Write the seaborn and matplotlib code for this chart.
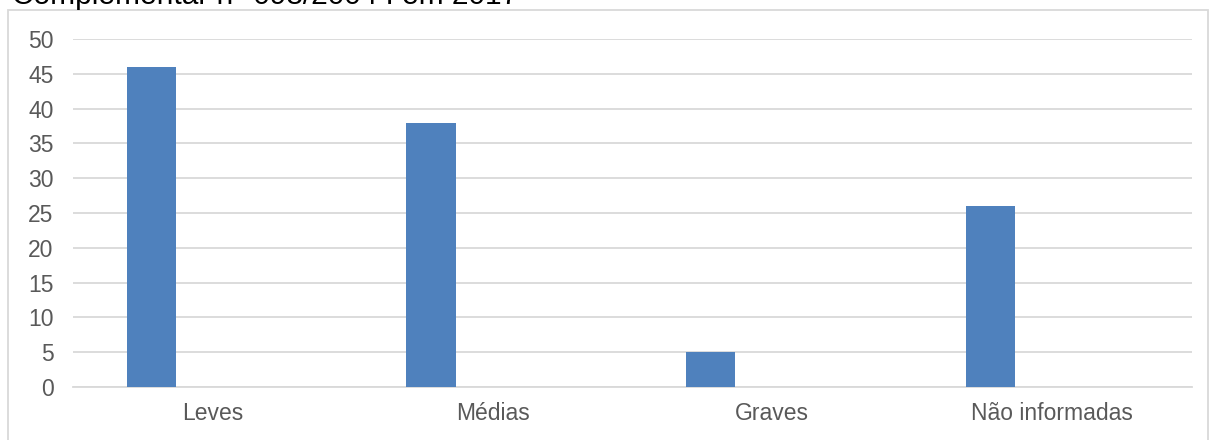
import matplotlib
matplotlib.use("Agg")
import matplotlib.pyplot as plt
import seaborn as sns
import pandas as pd
from matplotlib.patches import Rectangle

categories = ["Leves", "Médias", "Graves", "Não informadas"]
values = [46, 38, 5, 26]
empty_series = [0, 0, 0, 0]
yticks = [0, 5, 10, 15, 20, 25, 30, 35, 40, 45, 50]
title = "Complementar n° 098/2004 I em 2017"

sns.set_theme(style="white")
plt.rcParams['font.family'] = ['Liberation Sans', 'DejaVu Sans']

df = pd.DataFrame({
    "cat": categories * 2,
    "val": values + empty_series,
    "serie": ["A"] * 4 + ["B"] * 4,
})

fig = plt.figure(figsize=(12.09, 4.40), dpi=100)
ax = fig.add_axes([73/1209, 1-387/440, (1192-73)/1209, (387-39)/440])

sns.barplot(data=df, x="cat", y="val", hue="serie", order=categories,
            palette={"A": "#4f81bd", "B": "#c0504d"}, saturation=1,
            width=0.88, gap=0.6,
            linewidth=0, errorbar=None, legend=False, ax=ax, zorder=3)

ax.set_ylim(0, 50)
ax.set_xlim(-0.5, 3.5)
ax.set_yticks(yticks)
ax.set_yticklabels([str(t) for t in yticks])
ax.yaxis.grid(True, color="#d9d9d9", linewidth=1.3, zorder=0)
ax.set_axisbelow(True)
for s in ["top", "right", "left"]:
    ax.spines[s].set_visible(False)
ax.spines["bottom"].set_color("#d9d9d9")
ax.spines["bottom"].set_linewidth(1.3)
ax.tick_params(axis="both", length=0, labelsize=16.5, colors="#595959")
ax.tick_params(axis="y", pad=14)
ax.tick_params(axis="x", pad=11)
ax.set_xlabel("")
ax.set_ylabel("")

fig.patches.append(Rectangle((8/1209, -0.01), (1208-8)/1209, 1-10/440 + 0.01,
                             transform=fig.transFigure, fill=False,
                             edgecolor="#d9d9d9", linewidth=1.3))
fig.text(12/1209, 1-4/440, title, fontsize=21.5, color="#000000", va="baseline", ha="left")

fig.savefig("out.png", dpi=100)
